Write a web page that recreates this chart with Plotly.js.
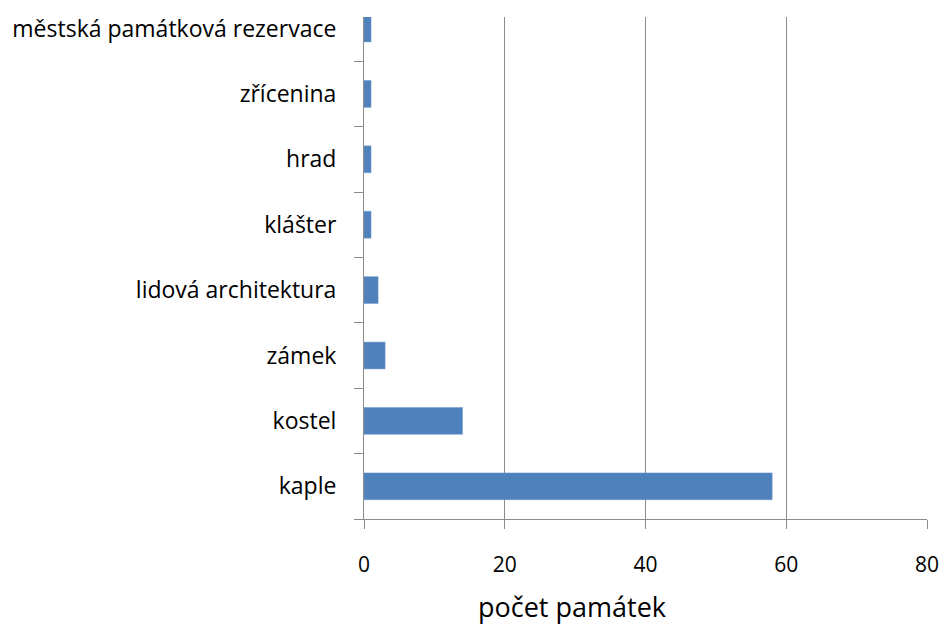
<!DOCTYPE html>
<html>
<head>
<meta charset="utf-8">
<script src="https://cdn.plot.ly/plotly-3.0.1.min.js"></script>
<style>html,body{margin:0;padding:0;background:#fff;}#chart{width:945px;height:630px;}</style>
</head>
<body>
<div id="chart"></div>
<script>
const categories = ["kaple", "kostel", "zámek", "lidová architektura", "klášter", "hrad", "zřícenina", "městská památková rezervace"];
const values = [58, 14, 3, 2, 1, 1, 1, 1];
const xTicks = [0, 20, 40, 60, 80];
const xTitle = "počet památek";

const FONT = "'Open Sans', sans-serif";
Plotly.newPlot("chart", [{
  type: "bar",
  orientation: "h",
  y: categories,
  x: values,
  width: 0.41,
  marker: {color: "#4F81BD", line: {color: "#6E97CB", width: 0.5}},
  hoverinfo: "none"
}], {
  width: 945, height: 630,
  margin: {l: 364, r: 18, t: 17, b: 111},
  paper_bgcolor: "#fff", plot_bgcolor: "#fff",
  showlegend: false,
  xaxis: {
    range: [0, 80], tickvals: xTicks, ticktext: xTicks.map(String),
    showgrid: true, gridcolor: "#8c8c8c", gridwidth: 1,
    showline: true, linecolor: "#8c8c8c", linewidth: 1,
    ticks: "outside", ticklen: 9, tickcolor: "#8c8c8c",
    zeroline: false,
    ticklabelstandoff: 18,
    tickfont: {family: FONT, size: 21, color: "#000"}
  },
  yaxis: {
    type: "category", categoryorder: "array", categoryarray: categories,
    range: [-0.5, 7.176],
    showgrid: false,
    showline: true, linecolor: "#8c8c8c", linewidth: 1,
    ticks: "outside", ticklen: 9, tickcolor: "#8c8c8c", tickson: "boundaries",
    ticklabelstandoff: 22,
    tickfont: {family: FONT, size: 23, color: "#000"}
  },
  annotations: [{
    text: xTitle, xref: "paper", yref: "paper",
    x: 0.369, y: -0.175, xanchor: "center", yanchor: "middle",
    showarrow: false,
    font: {family: FONT, size: 27, color: "#000"}
  }]
}, {staticPlot: true});
</script>
</body>
</html>
